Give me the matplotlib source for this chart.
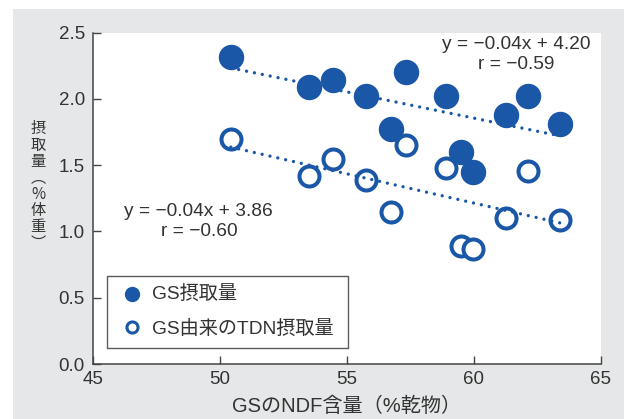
import numpy as np
import matplotlib
matplotlib.use('Agg')
import matplotlib.pyplot as plt
from matplotlib.lines import Line2D
from matplotlib.patches import Rectangle

plt.rcParams['font.family'] = ['Liberation Sans', 'Noto Sans CJK JP']
plt.rcParams['axes.unicode_minus'] = True

# GSのNDF含量（%乾物）
ndf = [50.42, 53.50, 54.44, 55.76, 57.34, 56.72, 58.89, 59.49, 59.95, 61.25, 62.14, 63.40]
# GS摂取量（%体重）
gs_intake = [2.32, 2.09, 2.14, 2.02, 2.20, 1.77, 2.02, 1.60, 1.45, 1.88, 2.02, 1.81]
# GS由来のTDN摂取量（%体重）
tdn_intake = [1.70, 1.42, 1.55, 1.39, 1.65, 1.15, 1.48, 0.89, 0.87, 1.10, 1.46, 1.09]

xticks = [45, 50, 55, 60, 65]
yticks = [0.0, 0.5, 1.0, 1.5, 2.0, 2.5]

blue = '#1a57a6'
txt = '#333333'

fig = plt.figure(figsize=(6.24, 4.19), dpi=100)
fig.patches.append(Rectangle((13 / 624, 0), 1, 1 - 9 / 419, transform=fig.transFigure,
                             facecolor='#e6e7e8', edgecolor='none', zorder=-10))
ax = fig.add_axes([93.3 / 624, 55 / 419, 507.4 / 624, 331.3 / 419])
ax.set_zorder(1)
ax.set_facecolor('white')

ax.plot(ndf, gs_intake, 'o', color=blue, ms=17.3, mec=blue, zorder=3)
ax.plot(ndf, tdn_intake, 'o', mfc='white', mec=blue, ms=14.4, mew=2.9, zorder=4)

# 回帰直線（点線）
for ys in (gs_intake, tdn_intake):
    slope, icpt = np.polyfit(ndf, ys, 1)
    xs = np.array([min(ndf), max(ndf)])
    ax.plot(xs, slope * xs + icpt, color=blue, lw=2.4, linestyle=(0, (0.01, 2.4)),
            dash_capstyle='round', zorder=5)

ax.text(0.833, 0.935, 'y = \u22120.04x + 4.20\nr = \u22120.59', transform=ax.transAxes,
        ha='center', va='center', multialignment='center', fontsize=13.8, color=txt,
        linespacing=1.2)
ax.text(0.208, 0.43, 'y = \u22120.04x + 3.86\nr = \u22120.60', transform=ax.transAxes,
        ha='center', va='center', multialignment='center', fontsize=13.8, color=txt,
        linespacing=1.2)

ax.set_xlim(45, 65)
ax.set_ylim(0, 2.5)
ax.set_xticks(xticks)
ax.set_yticks(yticks)
ax.set_xticklabels([str(v) for v in xticks])
ax.set_yticklabels(['%.1f' % v for v in yticks])
ax.tick_params(direction='in', length=6, width=1, colors='#444444', labelcolor=txt,
               labelsize=13.5)
ax.tick_params(axis='y', pad=6)
ax.tick_params(axis='x', pad=5)
for s in ('top', 'right'):
    ax.spines[s].set_visible(False)
for s in ('left', 'bottom'):
    ax.spines[s].set_color('#444444')
    ax.spines[s].set_linewidth(1.1)

ax.set_xlabel('GSのNDF含量（%乾物）', fontsize=14.5, color=txt, labelpad=6)

# 縦書きのy軸ラベル
fig.text(38 / 624, 1 - 186 / 419, '\n'.join('摂取量︵%体重︶'), ha='center', va='center',
         fontsize=11, color=txt, linespacing=0.95, family=['Noto Sans CJK JP'])

handles = [
    Line2D([], [], marker='o', ls='none', color=blue, ms=10),
    Line2D([], [], marker='o', ls='none', mfc='white', mec=blue, ms=8, mew=2.2),
]
leg = ax.legend(handles, ['GS摂取量', 'GS由来のTDN摂取量'], loc='lower left',
                bbox_to_anchor=(0.0276, 0.0474, 0.475, 0.2264), mode='expand',
                borderaxespad=0, borderpad=0.55, labelspacing=0.8, handlelength=1.5,
                handletextpad=0.3, fontsize=13.8, frameon=True, fancybox=False)
leg.get_frame().set_edgecolor('#333333')
leg.get_frame().set_linewidth(1.0)
for t in leg.get_texts():
    t.set_color(txt)

fig.savefig('out.png', dpi=100)
